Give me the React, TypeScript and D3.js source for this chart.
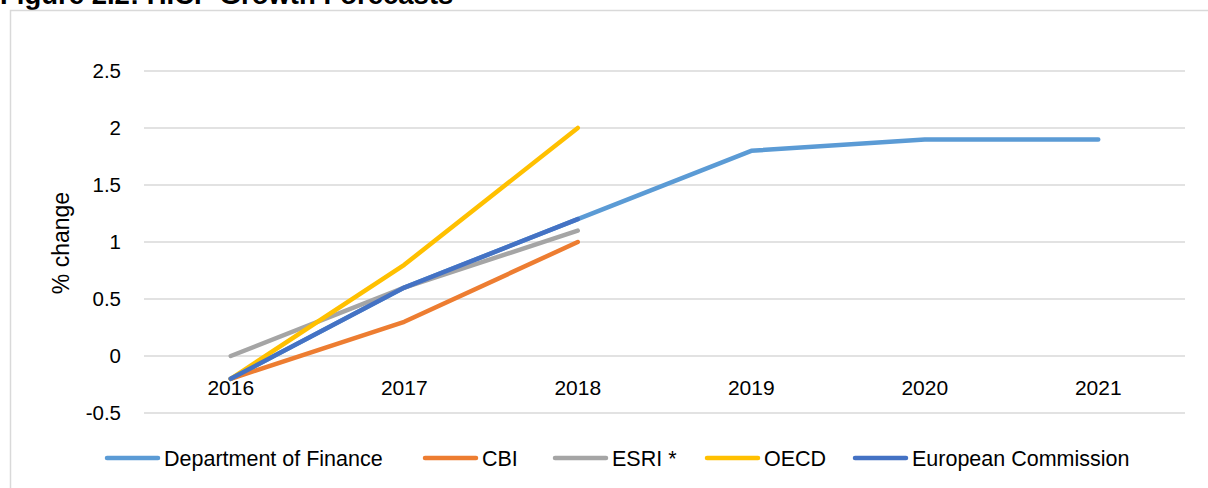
import React, { useEffect, useRef } from "react";
import * as d3 from "d3";

const years = ["2016", "2017", "2018", "2019", "2020", "2021"];
const financeValues = [-0.2, 0.6, 1.2, 1.8, 1.9, 1.9];
const cbiValues = [-0.2, 0.3, 1.0];
const esriValues = [0, 0.6, 1.1];
const oecdValues = [-0.2, 0.8, 2.0];
const ecValues = [-0.2, 0.6, 1.2];
const yTicks = [-0.5, 0, 0.5, 1, 1.5, 2, 2.5];
const seriesNames = ["Department of Finance", "CBI", "ESRI *", "OECD", "European Commission"];
const seriesColors = ["#5B9BD5", "#ED7D31", "#A5A5A5", "#FFC000", "#4472C4"];

// layout
const W = 1208;
const H = 488;
const FONT = "'Liberation Sans', Arial, sans-serif";
const legendSlots = [105, 423, 553, 705, 853];

export default function App() {
  const ref = useRef<SVGSVGElement>(null);

  useEffect(() => {
    const svg = d3.select(ref.current);
    svg.selectAll("*").remove();

    const x = d3.scalePoint<string>().domain(years).range([144, 1185]).padding(0.5);
    const y = d3.scaleLinear().domain([-0.5, 2.5]).range([413, 71]);

    svg.append("rect").attr("width", W).attr("height", H).attr("fill", "#fff");

    // title (partly cut off at top, as in the reference)
    svg
      .append("text")
      .attr("x", 0)
      .attr("y", 4)
      .attr("font-family", FONT)
      .attr("font-weight", "bold")
      .attr("font-size", 27.5)
      .attr("fill", "#000")
      .text("Figure 2.2: HICP Growth Forecasts");

    // chart frame
    svg
      .append("path")
      .attr("d", `M10.5,${H} L10.5,10.5 L${W},10.5`)
      .attr("fill", "none")
      .attr("stroke", "#d9d9d9")
      .attr("stroke-width", 1.5);

    // gridlines
    svg
      .append("g")
      .selectAll("line")
      .data(yTicks)
      .join("line")
      .attr("x1", 144)
      .attr("x2", 1185)
      .attr("y1", (d) => y(d))
      .attr("y2", (d) => y(d))
      .attr("stroke", "#d9d9d9")
      .attr("stroke-width", 1.5);

    // y tick labels
    svg
      .append("g")
      .selectAll("text")
      .data(yTicks)
      .join("text")
      .attr("x", 121)
      .attr("y", (d) => y(d))
      .attr("dy", "0.35em")
      .attr("text-anchor", "end")
      .attr("font-family", FONT)
      .attr("font-size", 20.5)
      .attr("fill", "#000")
      .text((d) => String(d));

    // x labels
    svg
      .append("g")
      .selectAll("text")
      .data(years)
      .join("text")
      .attr("x", (d) => x(d)!)
      .attr("y", y(0) + 32)
      .attr("dy", "0.35em")
      .attr("text-anchor", "middle")
      .attr("font-family", FONT)
      .attr("font-size", 21)
      .attr("fill", "#000")
      .text((d) => d);

    // y axis title
    svg
      .append("text")
      .attr("transform", `translate(61,${(y(-0.5) + y(2.5)) / 2 + 1}) rotate(-90)`)
      .attr("dy", "0.35em")
      .attr("text-anchor", "middle")
      .attr("font-family", FONT)
      .attr("font-size", 23)
      .attr("fill", "#000")
      .text("% change");

    const allSeries = [financeValues, cbiValues, esriValues, oecdValues, ecValues];
    const line = d3
      .line<number>()
      .x((_, i) => x(years[i])!)
      .y((d) => y(d));

    allSeries.forEach((vals, i) => {
      svg
        .append("path")
        .attr("d", line(vals)!)
        .attr("fill", "none")
        .attr("stroke", seriesColors[i])
        .attr("stroke-width", 4.5)
        .attr("stroke-linecap", "round")
        .attr("stroke-linejoin", "round");
    });

    // legend
    const lg = svg.append("g");
    const ly = 458;
    seriesNames.forEach((name, i) => {
      const sx = legendSlots[i];
      lg.append("line")
        .attr("x1", sx + 2)
        .attr("x2", sx + 53)
        .attr("y1", ly)
        .attr("y2", ly)
        .attr("stroke", seriesColors[i])
        .attr("stroke-width", 4.5)
        .attr("stroke-linecap", "round");
      lg.append("text")
        .attr("x", sx + 59)
        .attr("y", ly)
        .attr("dy", "0.35em")
        .attr("font-family", FONT)
        .attr("font-size", 21.5)
        .attr("fill", "#000")
        .text(name);
    });
  }, []);

  return (
    <svg
      ref={ref}
      width={W}
      height={H}
      style={{ position: "absolute", left: 0, top: 0, display: "block" }}
    />
  );
}
